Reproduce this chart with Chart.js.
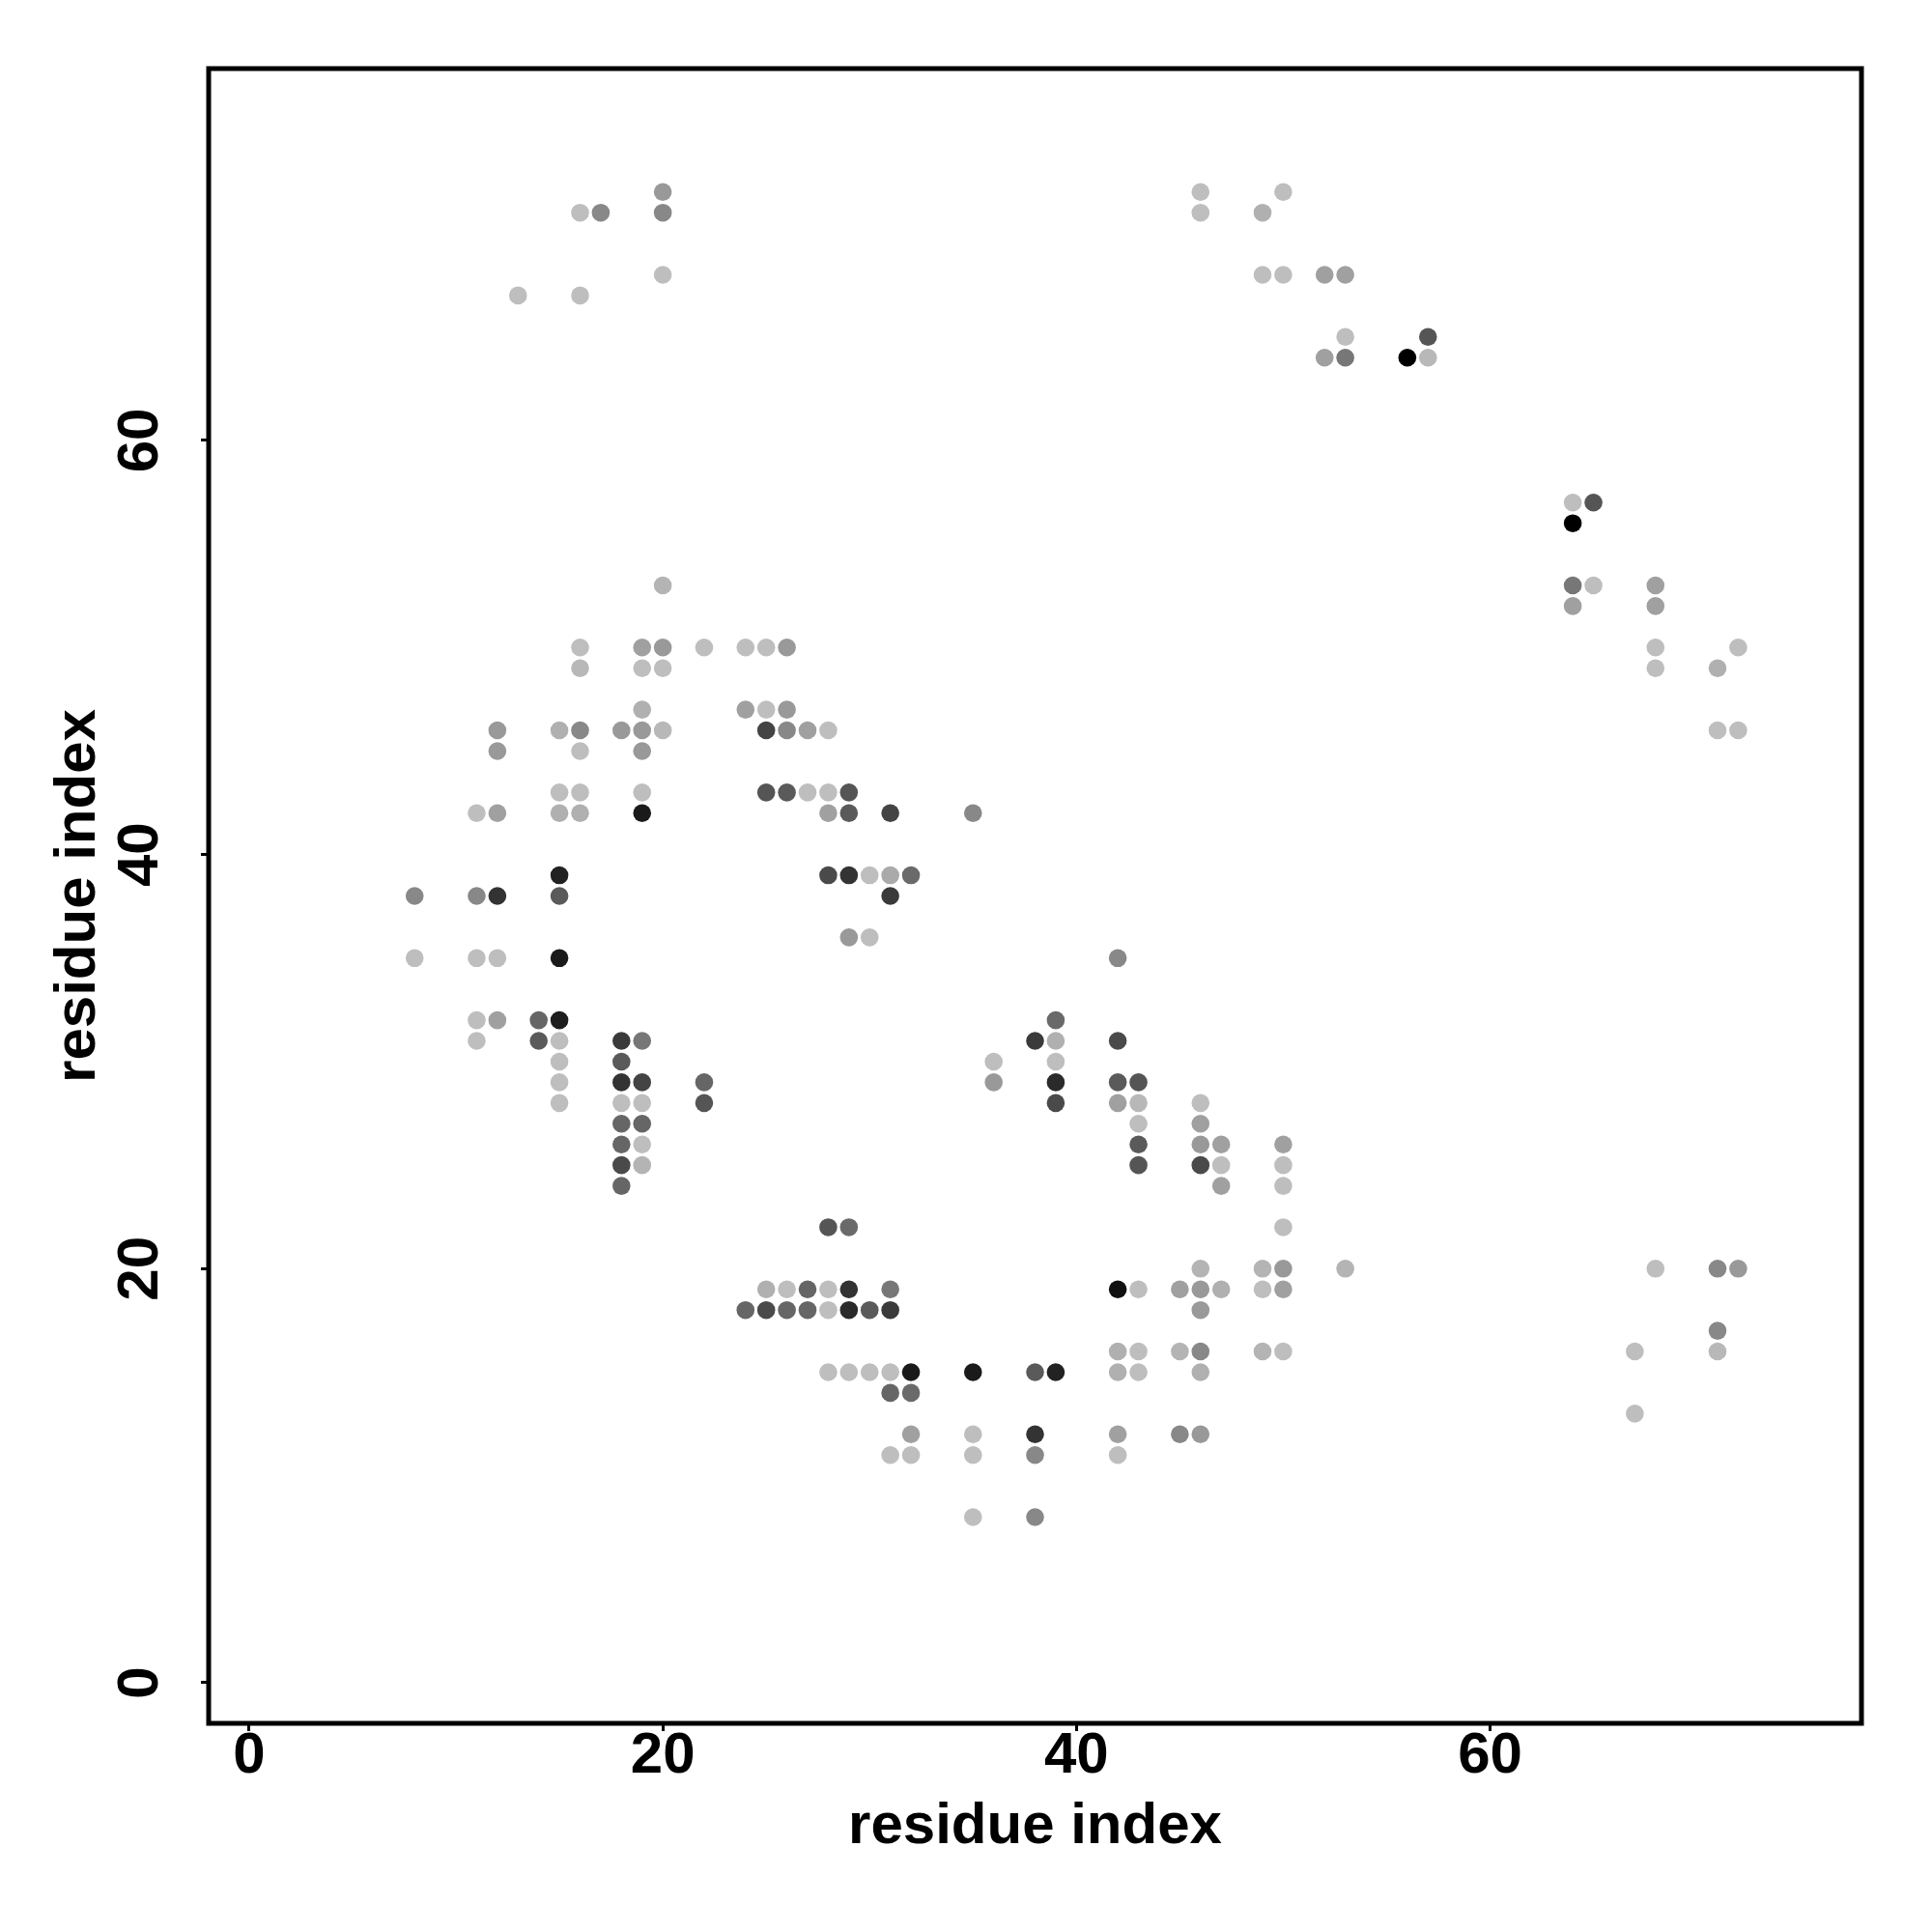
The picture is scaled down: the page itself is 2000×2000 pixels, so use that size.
<!DOCTYPE html>
<html lang="en">
<head>
  <meta charset="UTF-8">
  <title>residue contact map</title>
  <script src="https://cdn.jsdelivr.net/npm/chart.js"></script>
  <style>
    html, body { margin: 0; padding: 0; background: #ffffff; }
    #wrap { width: 2000px; height: 2000px; }
  </style>
</head>
<body>
  <div id="wrap"><canvas id="contacts" width="2000" height="2000"></canvas></div>

  <script>
    // contact pairs: residue i (x), residue j (y), grey level of the dot (0 = black, 190 = light)
    const residueI = [
      20, 46, 50,
      16, 17, 20, 46, 49,
      20, 49, 50, 52, 53,
      13, 16,
      53, 57,
      52, 53, 56, 57,
      64, 65,
      64,
      20, 64, 65, 68,
      64, 68,
      16, 19, 20, 22, 24, 25, 26, 68, 72,
      16, 19, 20, 68, 71,
      19, 24, 25, 26,
      12, 15, 16, 18, 19, 20, 25, 26, 27, 28, 71, 72,
      12, 16, 19,
      15, 16, 19, 25, 26, 27, 28, 29,
      11, 12, 15, 16, 19, 28, 29, 31, 35,
      15, 28, 29, 30, 31, 32,
      8, 11, 12, 15, 31,
      29, 30,
      8, 11, 12, 15, 42,
      11, 12, 14, 15, 39,
      11, 14, 15, 18, 19, 38, 39, 42,
      15, 18, 36, 39,
      15, 18, 19, 22, 36, 39, 42, 43,
      15, 18, 19, 22, 39, 42, 43, 46,
      18, 19, 43, 46,
      18, 19, 43, 46, 47, 50,
      18, 19, 43, 46, 47, 50,
      18, 47, 50,
      28, 29, 50,
      46, 49, 50, 53, 68, 71, 72,
      25, 26, 27, 28, 29, 31, 42, 43, 45, 46, 47, 49, 50,
      24, 25, 26, 27, 28, 29, 30, 31, 46,
      71,
      42, 43, 45, 46, 49, 50, 67, 71,
      28, 29, 30, 31, 32, 35, 38, 39, 42, 43, 46,
      31, 32,
      67,
      32, 35, 38, 42, 45, 46,
      31, 32, 35, 38, 42,
      35, 38
    ];
    const residueJ = [
      72, 72, 72,
      71, 71, 71, 71, 71,
      68, 68, 68, 68, 68,
      67, 67,
      65, 65,
      64, 64, 64, 64,
      57, 57,
      56,
      53, 53, 53, 53,
      52, 52,
      50, 50, 50, 50, 50, 50, 50, 50, 50,
      49, 49, 49, 49, 49,
      47, 47, 47, 47,
      46, 46, 46, 46, 46, 46, 46, 46, 46, 46, 46, 46,
      45, 45, 45,
      43, 43, 43, 43, 43, 43, 43, 43,
      42, 42, 42, 42, 42, 42, 42, 42, 42,
      39, 39, 39, 39, 39, 39,
      38, 38, 38, 38, 38,
      36, 36,
      35, 35, 35, 35, 35,
      32, 32, 32, 32, 32,
      31, 31, 31, 31, 31, 31, 31, 31,
      30, 30, 30, 30,
      29, 29, 29, 29, 29, 29, 29, 29,
      28, 28, 28, 28, 28, 28, 28, 28,
      27, 27, 27, 27,
      26, 26, 26, 26, 26, 26,
      25, 25, 25, 25, 25, 25,
      24, 24, 24,
      22, 22, 22,
      20, 20, 20, 20, 20, 20, 20,
      19, 19, 19, 19, 19, 19, 19, 19, 19, 19, 19, 19, 19,
      18, 18, 18, 18, 18, 18, 18, 18, 18,
      17,
      16, 16, 16, 16, 16, 16, 16, 16,
      15, 15, 15, 15, 15, 15, 15, 15, 15, 15, 15,
      14, 14,
      13,
      12, 12, 12, 12, 12, 12,
      11, 11, 11, 11, 11,
      8, 8
    ];
    const shade = [
      153, 190, 190,
      190, 136, 136, 190, 176,
      190, 190, 190, 160, 160,
      190, 190,
      190, 85,
      160, 119, 0, 184,
      190, 85,
      0,
      180, 119, 190, 160,
      160, 160,
      190, 160, 153, 190, 190, 190, 153, 190, 190,
      184, 190, 190, 190, 176,
      176, 160, 190, 153,
      153, 176, 136, 153, 153, 184, 68, 136, 160, 190, 190, 190,
      153, 190, 153,
      190, 190, 190, 85, 90, 190, 190, 85,
      190, 160, 176, 176, 26, 160, 90, 68, 136,
      34, 74, 51, 190, 170, 106,
      136, 136, 51, 90, 58,
      153, 190,
      190, 190, 190, 26, 136,
      190, 160, 102, 30, 106,
      190, 90, 190, 58, 119, 58, 176, 74,
      190, 90, 190, 190,
      190, 51, 68, 102, 153, 42, 90, 85,
      190, 190, 190, 85, 74, 160, 184, 190,
      102, 102, 190, 160,
      102, 190, 90, 153, 160, 160,
      74, 180, 85, 74, 190, 190,
      102, 160, 190,
      85, 106, 190,
      180, 180, 153, 180, 190, 136, 153,
      176, 190, 102, 190, 51, 119, 17, 190, 160, 153, 176, 190, 160,
      102, 74, 102, 102, 190, 42, 90, 58, 153,
      136,
      176, 190, 180, 136, 180, 190, 190, 184,
      190, 190, 190, 190, 26, 26, 90, 34, 176, 190, 176,
      102, 106,
      190,
      160, 190, 51, 160, 136, 153,
      190, 190, 190, 136, 190,
      190, 136
    ];
    const tickValues = [0, 20, 40, 60];
    const axisTitle = 'residue index';

    const axisMin = -1.96;
    const axisMax = 77.96;
    const fontFamily = '"Liberation Sans", Arial, Helvetica, sans-serif';

    const points = residueI.map((x, k) => ({ x: x, y: residueJ[k] }));
    const colors = shade.map(g => 'rgb(' + g + ',' + g + ',' + g + ')');

    // R-style closed frame around the plot region
    const framePlugin = {
      id: 'frame',
      afterDraw(chart) {
        const { ctx, chartArea } = chart;
        ctx.save();
        ctx.lineWidth = 5;
        ctx.strokeStyle = '#000';
        ctx.strokeRect(chartArea.left, chartArea.top,
          chartArea.right - chartArea.left, chartArea.bottom - chartArea.top);
        ctx.restore();
      }
    };

    const tickFont = { family: fontFamily, size: 60, weight: 'bold', lineHeight: 1 };
    const titleFont = { family: fontFamily, size: 60, weight: 'bold', lineHeight: 1.2 };
    const tickGrid = {
      display: true,
      drawOnChartArea: false,
      drawTicks: true,
      tickLength: 8,
      tickWidth: 3,
      tickColor: '#000'
    };

    new Chart(document.getElementById('contacts').getContext('2d'), {
      type: 'scatter',
      data: {
        datasets: [{
          label: 'contacts',
          data: points,
          pointRadius: 9.3,
          pointHoverRadius: 9.3,
          pointBorderWidth: 0,
          pointBackgroundColor: colors,
          pointBorderColor: colors
        }]
      },
      options: {
        responsive: false,
        animation: false,
        devicePixelRatio: 1,
        layout: { padding: { top: 71, right: 73, left: 0, bottom: 0 } },
        plugins: {
          legend: { display: false },
          tooltip: { enabled: false }
        },
        scales: {
          x: {
            type: 'linear',
            min: axisMin,
            max: axisMax,
            afterBuildTicks: s => { s.ticks = tickValues.map(v => ({ value: v })); },
            afterFit: s => { s.height = 216; },
            grid: tickGrid,
            border: { display: false },
            ticks: { color: '#000', font: tickFont, padding: -4, maxRotation: 0, autoSkip: false },
            title: {
              display: true,
              text: axisTitle,
              color: '#000',
              font: titleFont,
              padding: { top: 0, bottom: 73 }
            }
          },
          y: {
            type: 'linear',
            min: axisMin,
            max: axisMax,
            afterBuildTicks: s => { s.ticks = tickValues.map(v => ({ value: v })); },
            afterFit: s => { s.width = 216; },
            grid: tickGrid,
            border: { display: false },
            ticks: {
              color: '#000',
              font: tickFont,
              padding: 28,
              minRotation: 90,
              maxRotation: 90,
              crossAlign: 'center',
              autoSkip: false
            },
            title: {
              display: true,
              text: axisTitle,
              color: '#000',
              font: titleFont,
              padding: { top: 45, bottom: 0 }
            }
          }
        }
      },
      plugins: [framePlugin]
    });
  </script>
</body>
</html>
